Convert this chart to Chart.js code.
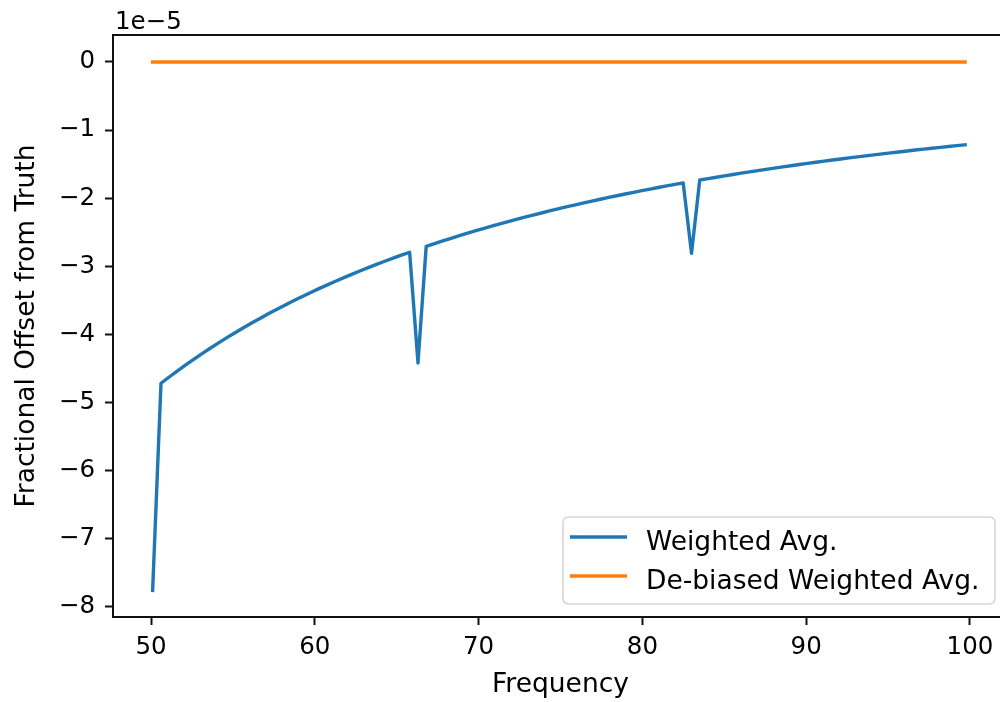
<!DOCTYPE html>
<html><head><meta charset="utf-8">
<script src="https://cdn.jsdelivr.net/npm/chart.js@4.4.0/dist/chart.umd.min.js"></script>
<style>html,body{margin:0;padding:0;background:#fff;overflow:hidden}#wrap{width:1010px;height:702px}</style>
</head><body><div id="wrap"><canvas id="c" width="1010" height="702"></canvas></div>
<script>
const FREQ = [50.10,50.61,51.11,51.62,52.12,52.63,53.14,53.64,54.15,54.66,
55.16,55.67,56.17,56.68,57.19,57.69,58.20,58.70,59.21,59.72,
60.22,60.73,61.23,61.74,62.25,62.75,63.26,63.77,64.27,64.78,
65.28,65.79,66.30,66.80,67.31,67.81,68.32,68.83,69.33,69.84,
70.34,70.85,71.36,71.86,72.37,72.88,73.38,73.89,74.39,74.90,
75.41,75.91,76.42,76.92,77.43,77.94,78.44,78.95,79.46,79.96,
80.47,80.97,81.48,81.99,82.49,83.00,83.50,84.01,84.52,85.02,
85.53,86.03,86.54,87.05,87.55,88.06,88.57,89.07,89.58,90.08,
90.59,91.10,91.60,92.11,92.61,93.12,93.63,94.13,94.64,95.15,
95.65,96.16,96.66,97.17,97.68,98.18,98.69,99.19,99.70];

// values in units of 1e-5
const WEIGHTED_AVG = [-7.760,-4.718,-4.626,-4.535,-4.449,-4.363,-4.280,-4.200,-4.121,-4.045,
-3.972,-3.899,-3.830,-3.762,-3.695,-3.631,-3.568,-3.507,-3.447,-3.388,
-3.332,-3.277,-3.223,-3.170,-3.119,-3.069,-3.020,-2.972,-2.926,-2.880,
-2.836,-2.795,-4.420,-2.708,-2.667,-2.628,-2.589,-2.551,-2.514,-2.478,
-2.443,-2.408,-2.373,-2.340,-2.307,-2.275,-2.244,-2.214,-2.184,-2.154,
-2.125,-2.097,-2.069,-2.043,-2.016,-1.989,-1.964,-1.939,-1.914,-1.890,
-1.866,-1.843,-1.820,-1.798,-1.776,-2.810,-1.733,-1.712,-1.692,-1.672,
-1.652,-1.633,-1.614,-1.595,-1.577,-1.558,-1.541,-1.523,-1.506,-1.489,
-1.473,-1.456,-1.440,-1.424,-1.409,-1.394,-1.379,-1.364,-1.349,-1.335,
-1.321,-1.307,-1.293,-1.280,-1.267,-1.254,-1.241,-1.228,-1.216];

const DEBIASED_AVG = [0,0,0,0,0,0,0,0,0,0,
0,0,0,0,0,0,0,0,0,0,
0,0,0,0,0,0,0,0,0,0,
0,0,0,0,0,0,0,0,0,0,
0,0,0,0,0,0,0,0,0,0,
0,0,0,0,0,0,0,0,0,0,
0,0,0,0,0,0,0,0,0,0,
0,0,0,0,0,0,0,0,0,0,
0,0,0,0,0,0,0,0,0,0,
0,0,0,0,0,0,0,0,0];

const SERIES_LABELS = ['Weighted Avg.', 'De-biased Weighted Avg.'];
const SERIES_COLORS = ['#1f77b4', '#ff7f0e'];
const X_TICKS = [50, 60, 70, 80, 90, 100];
const Y_TICKS = [-8, -7, -6, -5, -4, -3, -2, -1, 0];
const X_LABEL = 'Frequency';
const Y_LABEL = 'Fractional Offset from Truth';
const OFFSET_TEXT = '1e\u22125';

const FONT = 'DejaVu Sans';
const TICK_FS = 24.5;
const LABEL_FS = 26.5;
Chart.defaults.font.family = FONT;
Chart.defaults.font.size = TICK_FS;
Chart.defaults.color = '#000';

const framePlugin = {
  id: 'frame',
  afterDraw(chart) {
    const ctx = chart.ctx;
    const a = chart.chartArea;
    ctx.save();
    // spines
    ctx.strokeStyle = '#111';
    ctx.lineWidth = 2;
    ctx.strokeRect(a.left, a.top, a.right - a.left, a.bottom - a.top);
    // offset text
    ctx.fillStyle = '#000';
    ctx.font = TICK_FS + 'px "' + FONT + '"';
    ctx.textAlign = 'left';
    ctx.textBaseline = 'alphabetic';
    ctx.fillText(OFFSET_TEXT, a.left + 2, a.top - 6);
    // legend
    const bx = 563, by = 517, bw = 432, bh = 87, r = 6;
    ctx.beginPath();
    ctx.moveTo(bx + r, by);
    ctx.lineTo(bx + bw - r, by);
    ctx.quadraticCurveTo(bx + bw, by, bx + bw, by + r);
    ctx.lineTo(bx + bw, by + bh - r);
    ctx.quadraticCurveTo(bx + bw, by + bh, bx + bw - r, by + bh);
    ctx.lineTo(bx + r, by + bh);
    ctx.quadraticCurveTo(bx, by + bh, bx, by + bh - r);
    ctx.lineTo(bx, by + r);
    ctx.quadraticCurveTo(bx, by, bx + r, by);
    ctx.closePath();
    ctx.fillStyle = 'rgba(255,255,255,0.8)';
    ctx.fill();
    ctx.strokeStyle = '#d6d6d6';
    ctx.lineWidth = 1.6;
    ctx.stroke();
    ctx.font = LABEL_FS + 'px "' + FONT + '"';
    chart.data.datasets.forEach((ds, i) => {
      const ly = 537 + i * 39;
      ctx.beginPath();
      ctx.moveTo(570, ly);
      ctx.lineTo(627, ly);
      ctx.strokeStyle = ds.borderColor;
      ctx.lineWidth = 3.6;
      ctx.lineCap = 'butt';
      ctx.stroke();
      ctx.fillStyle = '#000';
      ctx.textBaseline = 'alphabetic';
      ctx.fillText(ds.label, 646, ly + 12.5);
    });
    ctx.restore();
  }
};

const mkData = (ys) => FREQ.map((f, i) => ({ x: f, y: ys[i] }));

new Chart(document.getElementById('c'), {
  type: 'scatter',
  data: {
    datasets: [
      { label: SERIES_LABELS[0], data: mkData(WEIGHTED_AVG), borderColor: SERIES_COLORS[0], backgroundColor: SERIES_COLORS[0],
        showLine: true, pointRadius: 0, borderWidth: 3.4, borderJoinStyle: 'round', borderCapStyle: 'square', tension: 0 },
      { label: SERIES_LABELS[1], data: mkData(DEBIASED_AVG), borderColor: SERIES_COLORS[1], backgroundColor: SERIES_COLORS[1],
        showLine: true, pointRadius: 0, borderWidth: 3.4, borderJoinStyle: 'round', borderCapStyle: 'square', tension: 0 }
    ]
  },
  options: {
    responsive: false,
    animation: false,
    devicePixelRatio: 1,
    layout: { padding: { left: 0, top: 35, right: 2, bottom: 0 } },
    plugins: { legend: { display: false }, tooltip: { enabled: false } },
    scales: {
      x: {
        type: 'linear', position: 'bottom', min: 47.68, max: 102.32,
        afterFit: (s) => { s.height = 85; },
        afterBuildTicks: (s) => { s.ticks = X_TICKS.map(v => ({ value: v })); },
        ticks: { padding: 8, maxRotation: 0, autoSkip: false, color: '#000', callback: (v) => String(v) },
        grid: { display: true, drawOnChartArea: false, drawTicks: true, tickLength: 8, tickWidth: 2, tickColor: '#111' },
        border: { display: false },
        title: { display: true, text: X_LABEL, color: '#000', font: { size: LABEL_FS }, padding: { top: 0, bottom: 1 } }
      },
      y: {
        type: 'linear', position: 'left', min: -8.151, max: 0.3965,
        afterFit: (s) => { s.width = 113; },
        afterBuildTicks: (s) => { s.ticks = Y_TICKS.map(v => ({ value: v })); },
        ticks: { padding: 10, color: '#000', callback: (v) => v === 0 ? '0' : (v < 0 ? '\u2212' + Math.abs(v) : String(v)) },
        grid: { display: true, drawOnChartArea: false, drawTicks: true, tickLength: 8, tickWidth: 2, tickColor: '#111' },
        border: { display: false },
        title: { display: true, text: Y_LABEL, color: '#000', font: { size: LABEL_FS }, padding: { top: 11, bottom: 0 } }
      }
    }
  },
  plugins: [framePlugin]
});
</script>
</body></html>
